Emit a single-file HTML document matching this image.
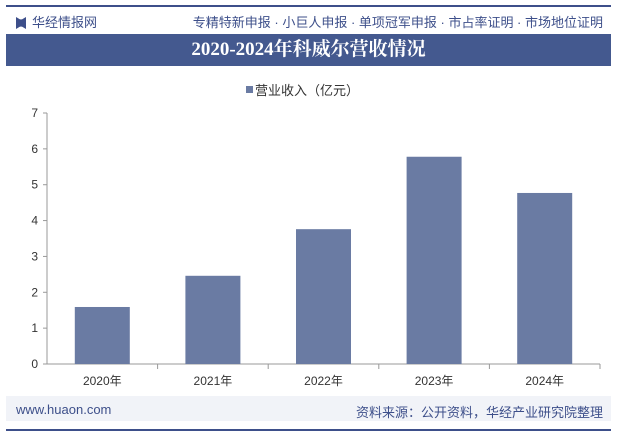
<!DOCTYPE html>
<html><head><meta charset="utf-8"><style>
body{margin:0;width:617px;height:434px;background:#fff;font-family:"Liberation Sans","Noto Sans CJK SC",sans-serif;overflow:hidden;position:relative}
.a{position:absolute}
</style></head><body>
<div class="a" style="left:6px;top:5px;width:605px;height:2px;background:#3d4f8a"></div>
<div class="a" style="left:16px;top:12px;font-size:13px;color:#3d4f8a"><span style="display:inline-block;width:10px;height:12px;background:#3d4f8a;margin-right:6px;vertical-align:-2px;clip-path:polygon(0 0,40% 20%,60% 20%,100% 0,100% 100%,60% 80%,40% 80%,0 100%)"></span>华经情报网</div>
<div class="a" style="right:14px;top:12px;font-size:13px;color:#3d4f8a">专精特新申报 · 小巨人申报 · 单项冠军申报 · 市占率证明 · 市场地位证明</div>
<div class="a" style="left:6px;top:34px;width:605px;height:32px;background:#44598f;color:#fff;font-family:'Liberation Serif','Noto Serif CJK SC',serif;font-weight:bold;font-size:19px;text-align:center;line-height:32px">2020-2024年科威尔营收情况</div>
<svg class="a" style="left:0;top:0" width="617" height="434">
<g id="g"></g></svg>
<div class="a" style="left:6px;top:396px;width:605px;height:25px;background:#f1f3f8"></div>
<div class="a" style="left:16px;top:402px;font-size:13px;color:#3d4f8a">www.huaon.com</div>
<div class="a" style="right:14px;top:402px;font-size:13px;color:#3d4f8a">资料来源：公开资料，华经产业研究院整理</div>
<div class="a" style="left:6px;top:429px;width:605px;height:2px;background:#3d4f8a"></div>
<script>
const categories=["2020年","2021年","2022年","2023年","2024年"];
const revenue=[1.59,2.46,3.76,5.78,4.77];
const yTicks=[0,1,2,3,4,5,6,7];
const NS="http://www.w3.org/2000/svg",g=document.getElementById("g");
const x0=47,x1=600,y0=364,yTop=113;
const y=v=>y0-(v/7)*(y0-yTop);
const cw=(x1-x0)/categories.length;
function mk(t,a,txt){const e=document.createElementNS(NS,t);for(const k in a)e.setAttribute(k,a[k]);if(txt!==undefined)e.textContent=txt;g.appendChild(e);return e;}
let e=mk("line",{x1:x0,x2:x0,y1:yTop,y2:y0,stroke:"#999"});


e=mk("line",{x1:x0,x2:x1,y1:y0,y2:y0,stroke:"#999"});


yTicks.forEach(v=>{
 mk("line",{x1:x0-4,x2:x0,y1:y(v),y2:y(v),stroke:"#999"});
 e=mk("text",{x:x0-9,y:y(v)+4,"text-anchor":"end","font-size":12,fill:"#333"},v);
 
 
});
categories.forEach((c,i)=>{
 const cx=x0+cw*(i+0.5);
 mk("line",{x1:x0+cw*(i+1),x2:x0+cw*(i+1),y1:y0,y2:y0+5,stroke:"#999"});
 e=mk("rect",{x:cx-27.5,y:y(revenue[i]),width:55,height:y0-y(revenue[i]),fill:"#6a7ba3"});
 
 
 e=mk("text",{x:cx,y:y0+21,"text-anchor":"middle","font-size":12,fill:"#333"},c);
 
 
});
e=mk("rect",{x:246,y:86,width:7,height:7,fill:"#6a7ba3"});


e=mk("text",{x:255,y:95,"font-size":13,fill:"#333"},"营业收入（亿元）");


</script>
</body></html>
